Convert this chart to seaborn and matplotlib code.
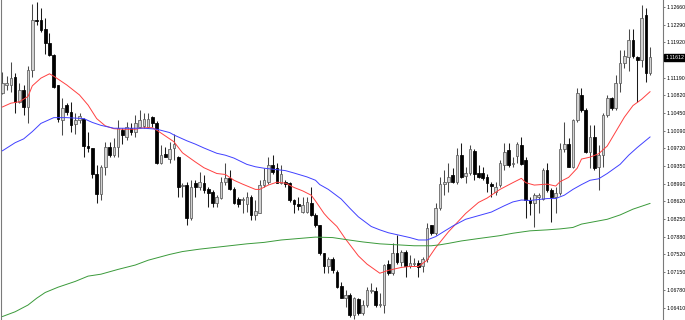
import numpy as np
import pandas as pd
import matplotlib
matplotlib.use("Agg")
import matplotlib.pyplot as plt
import seaborn as sns

# ---------------- data ----------------
opens = [1.1088, 1.1103, 1.1104, 1.1121, 1.1069, 1.1093, 1.1059, 1.1135, 1.1239, 1.1239,
         1.1221, 1.1191, 1.1166, 1.1104, 1.1031, 1.1062, 1.1048, 1.1023, 1.1032, 1.1034,
         1.0977, 1.0972, 1.0920, 1.0877, 1.0934, 1.0976, 1.0958, 1.0976, 1.1010, 1.0996,
         1.1014, 1.1007, 1.1017, 1.1018, 1.1017, 1.1038, 1.1025, 1.0941, 1.0960, 1.0951,
         1.0972, 1.0955, 1.0895, 1.0896, 1.0827, 1.0901, 1.0893, 1.0901, 1.0887, 1.0882,
         1.0859, 1.0870, 1.0903, 1.0910, 1.0887, 1.0868, 1.0865, 1.0857, 1.0872, 1.0834,
         1.0839, 1.0896, 1.0903, 1.0937, 1.0931, 1.0901, 1.0903, 1.0901, 1.0866, 1.0857,
         1.0841, 1.0841, 1.0858, 1.0834, 1.0813, 1.0754, 1.0727, 1.0742, 1.0716, 1.0686,
         1.0662, 1.0668, 1.0626, 1.0659, 1.0630, 1.0647, 1.0677, 1.0677, 1.0647, 1.0647,
         1.0733, 1.0713, 1.0755, 1.0737, 1.0757, 1.0727, 1.0732, 1.0735, 1.0727, 1.0742,
         1.0813, 1.0796, 1.0848, 1.0899, 1.0903, 1.0917, 1.0903, 1.0958, 1.0915, 1.0922,
         1.0967, 1.0922, 1.0922, 1.0912, 1.0899, 1.0882, 1.0896, 1.0937, 1.0969, 1.0940,
         1.0956, 1.0980, 1.0949, 1.0865, 1.0858, 1.0872, 1.0868, 1.0927, 1.0886, 1.0872,
         1.0879, 1.0970, 1.0982, 1.0934, 1.1031, 1.1083, 1.1052, 1.0965, 1.0996, 1.0934,
         1.0958, 1.1041, 1.1076, 1.1055, 1.1107, 1.1150, 1.1161, 1.1197, 1.1161, 1.1156,
         1.1249, 1.1129]
highs = [1.1131, 1.1122, 1.1152, 1.1128, 1.1107, 1.1104, 1.1143, 1.1272, 1.1277, 1.1263,
         1.1242, 1.1211, 1.1169, 1.1104, 1.1076, 1.1066, 1.1069, 1.1045, 1.1045, 1.1036,
         1.1007, 1.0973, 1.0937, 1.0937, 1.0986, 1.0986, 1.0993, 1.1031, 1.1014, 1.1027,
         1.1024, 1.1042, 1.1052, 1.1045, 1.1045, 1.1039, 1.1030, 1.0979, 1.0976, 1.0986,
         1.1003, 1.0956, 1.0901, 1.0903, 1.0906, 1.0906, 1.0924, 1.0917, 1.0893, 1.0886,
         1.0875, 1.0913, 1.0941, 1.0927, 1.0893, 1.0872, 1.0872, 1.0882, 1.0875, 1.0865,
         1.0906, 1.0931, 1.0955, 1.0958, 1.0941, 1.0937, 1.0906, 1.0903, 1.0868, 1.0872,
         1.0872, 1.0872, 1.0893, 1.0837, 1.0813, 1.0754, 1.0747, 1.0747, 1.0720, 1.0695,
         1.0678, 1.0671, 1.0664, 1.0661, 1.0657, 1.0685, 1.0692, 1.0684, 1.0671, 1.0733,
         1.0740, 1.0775, 1.0792, 1.0761, 1.0761, 1.0751, 1.0744, 1.0740, 1.0747, 1.0817,
         1.0813, 1.0858, 1.0913, 1.0927, 1.0941, 1.0931, 1.0972, 1.0983, 1.0934, 1.0979,
         1.0970, 1.0937, 1.0934, 1.0920, 1.0903, 1.0903, 1.0948, 1.0983, 1.0983, 1.0955,
         1.0986, 1.0996, 1.0955, 1.0872, 1.0879, 1.0879, 1.0931, 1.0941, 1.0889, 1.0893,
         1.0983, 1.1027, 1.0993, 1.1034, 1.1097, 1.1097, 1.1055, 1.1021, 1.1021, 1.0979,
         1.1045, 1.1083, 1.1079, 1.1124, 1.1176, 1.1176, 1.1221, 1.1221, 1.1163, 1.1270,
         1.1263, 1.1182]
lows = [1.1085, 1.1093, 1.1090, 1.1045, 1.1066, 1.1042, 1.1024, 1.1121, 1.1228, 1.1214,
        1.1169, 1.1163, 1.1097, 1.1027, 1.1000, 1.1042, 1.1007, 1.1003, 1.1024, 1.0955,
        1.0965, 1.0910, 1.0858, 1.0865, 1.0917, 1.0955, 1.0955, 1.0955, 1.0982, 1.0989,
        1.1000, 1.0996, 1.1014, 1.1014, 1.1014, 1.1017, 1.0940, 1.0940, 1.0955, 1.0941,
        1.0948, 1.0872, 1.0872, 1.0813, 1.0823, 1.0872, 1.0886, 1.0879, 1.0851, 1.0851,
        1.0851, 1.0868, 1.0896, 1.0886, 1.0857, 1.0851, 1.0837, 1.0841, 1.0823, 1.0823,
        1.0837, 1.0893, 1.0899, 1.0920, 1.0901, 1.0899, 1.0893, 1.0861, 1.0837, 1.0844,
        1.0837, 1.0837, 1.0832, 1.0810, 1.0751, 1.0713, 1.0713, 1.0713, 1.0682, 1.0661,
        1.0643, 1.0623, 1.0619, 1.0626, 1.0626, 1.0643, 1.0671, 1.0643, 1.0643, 1.0630,
        1.0709, 1.0709, 1.0733, 1.0727, 1.0706, 1.0723, 1.0727, 1.0706, 1.0716, 1.0737,
        1.0792, 1.0792, 1.0844, 1.0875, 1.0882, 1.0901, 1.0899, 1.0910, 1.0901, 1.0917,
        1.0906, 1.0910, 1.0906, 1.0882, 1.0872, 1.0875, 1.0893, 1.0927, 1.0934, 1.0934,
        1.0941, 1.0937, 1.0827, 1.0834, 1.0810, 1.0837, 1.0865, 1.0882, 1.0820, 1.0837,
        1.0875, 1.0965, 1.0933, 1.0931, 1.1027, 1.1048, 1.0962, 1.0931, 1.0927, 1.0886,
        1.0934, 1.1038, 1.1052, 1.1052, 1.1090, 1.1138, 1.1133, 1.1159, 1.1069, 1.1142,
        1.1110, 1.1124]
closes = [1.1107, 1.1107, 1.1119, 1.1069, 1.1093, 1.1059, 1.1135, 1.1239, 1.1236, 1.1218,
          1.1191, 1.1166, 1.1099, 1.1034, 1.1057, 1.1047, 1.1021, 1.1031, 1.1039, 1.0978,
          1.0972, 1.0920, 1.0877, 1.0934, 1.0976, 1.0958, 1.0976, 1.1014, 1.1000, 1.1017,
          1.1007, 1.1024, 1.1031, 1.1034, 1.1034, 1.1025, 1.0941, 1.0958, 1.0955, 1.0970,
          1.0982, 1.0893, 1.0897, 1.0827, 1.0893, 1.0893, 1.0903, 1.0886, 1.0879, 1.0859,
          1.0872, 1.0903, 1.0910, 1.0887, 1.0859, 1.0857, 1.0868, 1.0872, 1.0834, 1.0842,
          1.0896, 1.0906, 1.0937, 1.0924, 1.0901, 1.0920, 1.0899, 1.0865, 1.0857, 1.0852,
          1.0854, 1.0861, 1.0834, 1.0813, 1.0754, 1.0727, 1.0742, 1.0720, 1.0685, 1.0662,
          1.0668, 1.0626, 1.0661, 1.0630, 1.0647, 1.0679, 1.0679, 1.0647, 1.0649, 1.0731,
          1.0713, 1.0754, 1.0737, 1.0757, 1.0727, 1.0735, 1.0735, 1.0725, 1.0742, 1.0806,
          1.0796, 1.0848, 1.0899, 1.0903, 1.0913, 1.0903, 1.0958, 1.0913, 1.0922, 1.0970,
          1.0920, 1.0913, 1.0910, 1.0901, 1.0895, 1.0893, 1.0941, 1.0965, 1.0937, 1.0942,
          1.0981, 1.0939, 1.0865, 1.0858, 1.0875, 1.0875, 1.0927, 1.0886, 1.0872, 1.0879,
          1.0970, 1.0981, 1.0934, 1.1031, 1.1088, 1.1052, 1.0965, 1.0996, 1.0931, 1.0958,
          1.1041, 1.1076, 1.1055, 1.1107, 1.1150, 1.1163, 1.1197, 1.1163, 1.1156, 1.1242,
          1.1129, 1.11612]

# moving averages: (candle index, value) pairs
red_idx = [0, 2, 4, 6, 7, 9, 11, 12, 15, 18, 20, 22, 24, 26, 28, 31, 33, 35, 36, 38,
           40, 42, 45, 47, 50, 52, 54, 56, 59, 60, 62, 64, 66, 68, 70, 72, 73, 75, 76, 78,
           80, 83, 85, 88, 90, 93, 95, 97, 99, 101, 104, 106, 108, 111, 113, 116, 119, 121,
           122, 124, 127, 129, 130, 132, 134, 135, 137, 139, 141, 143, 145, 147, 149, 151]
red_val = [1.1058, 1.1066, 1.1069, 1.1080, 1.1102, 1.1118, 1.1127, 1.1122, 1.1104, 1.1083,
           1.1062, 1.1034, 1.1019, 1.1013, 1.1012, 1.1012, 1.1015, 1.1015, 1.1010, 1.0998,
           1.0986, 1.0963, 1.0944, 1.0932, 1.0920, 1.0918, 1.0906, 1.0898, 1.0887, 1.0887,
           1.0896, 1.0902, 1.0900, 1.0891, 1.0884, 1.0875, 1.0863, 1.0837, 1.0827, 1.0810,
           1.0784, 1.0749, 1.0732, 1.0713, 1.0719, 1.0725, 1.0727, 1.0727, 1.0740, 1.0766,
           1.0799, 1.0818, 1.0837, 1.0860, 1.0869, 1.0887, 1.0901, 1.0910, 1.0901, 1.0896,
           1.0898, 1.0894, 1.0903, 1.0912, 1.0931, 1.0950, 1.0954, 1.0961, 1.0977, 1.1007,
           1.1037, 1.1061, 1.1074, 1.1090]

blue_idx = [0, 3, 5, 7, 9, 12, 15, 19, 21, 23, 26, 29, 33, 36, 39, 40, 43, 45, 47, 50,
            52, 54, 57, 59, 61, 64, 66, 68, 71, 73, 74, 76, 79, 81, 83, 86, 88, 90, 93, 95,
            97, 99, 101, 103, 105, 108, 110, 112, 114, 117, 119, 121, 123, 125, 127, 129,
            131, 133, 135, 137, 139, 141, 144, 146, 148, 151]
blue_val = [1.0967, 1.0984, 1.0992, 1.1007, 1.1024, 1.1036, 1.1036, 1.1034, 1.1026, 1.1020,
            1.1014, 1.1014, 1.1014, 1.1012, 1.1005, 1.1000, 1.0988, 1.0981, 1.0973, 1.0962,
            1.0958, 1.0952, 1.0939, 1.0934, 1.0931, 1.0928, 1.0926, 1.0921, 1.0913, 1.0906,
            1.0897, 1.0887, 1.0867, 1.0848, 1.0830, 1.0810, 1.0803, 1.0797, 1.0791, 1.0787,
            1.0782, 1.0782, 1.0789, 1.0800, 1.0811, 1.0825, 1.0830, 1.0835, 1.0840, 1.0853,
            1.0861, 1.0865, 1.0864, 1.0866, 1.0868, 1.0868, 1.0875, 1.0887, 1.0897, 1.0906,
            1.0909, 1.0920, 1.0939, 1.0958, 1.0974, 1.0996]

green_idx = [0, 3, 6, 8, 10, 13, 17, 20, 23, 27, 31, 34, 39, 42, 46, 50, 53, 57, 61, 65,
             69, 73, 77, 80, 84, 88, 92, 96, 100, 102, 104, 107, 111, 116, 119, 123, 127,
             130, 133, 135, 138, 141, 144, 147, 151]
green_val = [1.0623, 1.0633, 1.0647, 1.0661, 1.0673, 1.0684, 1.0696, 1.0707, 1.0711, 1.0721,
             1.0730, 1.0740, 1.0752, 1.0758, 1.0763, 1.0767, 1.0770, 1.0774, 1.0777, 1.0782,
             1.0785, 1.0788, 1.0787, 1.0783, 1.0778, 1.0774, 1.0772, 1.0770, 1.0770, 1.0772,
             1.0775, 1.0780, 1.0785, 1.0791, 1.0796, 1.0801, 1.0803, 1.0805, 1.0808, 1.0815,
             1.0820, 1.0825, 1.0834, 1.0846, 1.0858]

price_ticks = [1.12660, 1.12290, 1.11920, 1.11550, 1.11190, 1.10820, 1.10450, 1.10090,
               1.09720, 1.09350, 1.08990, 1.08620, 1.08250, 1.07880, 1.07520, 1.07150,
               1.06780, 1.06410]

# ---------------- figure ----------------
sns.set_theme(style="white")
plt.rcParams['font.family'] = ['Liberation Sans', 'DejaVu Sans']

W, H = 685, 320
fig = plt.figure(figsize=(W / 100, H / 100), dpi=100)
ax = fig.add_axes([1 / W, 0, 662 / W, 1])
ax.set_facecolor("white")

df = pd.DataFrame({"i": np.arange(len(opens)), "open": opens, "high": highs,
                   "low": lows, "close": closes})
bull = df[df["close"] >= df["open"]]
bear = df[df["close"] < df["open"]]

# wicks
ax.vlines(bull["i"], bull["low"], bull["high"], color="#4a4a4a", lw=0.75, zorder=2)
ax.vlines(bear["i"], bear["low"], bear["high"], color="#1a1a1a", lw=0.75, zorder=2)

# bodies
minh = 0.00004
bh = (bull["close"] - bull["open"]).clip(lower=minh)
ax.bar(bull["i"], bh, bottom=bull["open"], width=0.62, color="#d2d2d2",
       edgecolor="#5c5c5c", linewidth=0.55, zorder=3)
rh = (bear["open"] - bear["close"]).clip(lower=minh)
ax.bar(bear["i"], rh, bottom=bear["close"], width=0.62, color="black",
       edgecolor="black", linewidth=0.55, zorder=3)

# moving averages
ma = pd.concat([
    pd.DataFrame({"i": red_idx, "v": red_val, "ma": "fast"}),
    pd.DataFrame({"i": blue_idx, "v": blue_val, "ma": "mid"}),
    pd.DataFrame({"i": green_idx, "v": green_val, "ma": "slow"}),
])
sns.lineplot(data=ma, x="i", y="v", hue="ma", ax=ax, legend=False, lw=0.7,
             palette={"fast": "#ff4040", "mid": "#4040ff", "slow": "#3a9a3a"},
             estimator=None, sort=False, zorder=4)

ax.set_xlim(-0.30, 154.0)
ax.set_ylim(1.06159, 1.12802)
ax.set_xlabel("")
ax.set_ylabel("")
ax.set_xticks([])

ax.yaxis.tick_right()
ax.set_yticks(price_ticks)
ax.set_yticklabels([f"{t:.5f}" for t in price_ticks])
ax.tick_params(axis="y", which="both", right=True, left=False, length=1.5, width=0.6,
               color="#606060", pad=0.8, labelsize=3.8, labelcolor="black")

for s in ["top", "bottom"]:
    ax.spines[s].set_visible(False)
for s in ["left", "right"]:
    ax.spines[s].set_visible(True)
    ax.spines[s].set_color("#7a7a7a")
    ax.spines[s].set_linewidth(0.8)

# last price box
last = closes[-1]
ax.annotate(f"{last:.5f}", xy=(1.0, last), xycoords=("axes fraction", "data"),
            xytext=(1.6, 0), textcoords="offset points", ha="left", va="center",
            fontsize=3.8, color="white", zorder=10, annotation_clip=False,
            bbox=dict(boxstyle="square,pad=0.2", fc="black", ec="black"))

fig.savefig("out.png", dpi=100, facecolor="white")
